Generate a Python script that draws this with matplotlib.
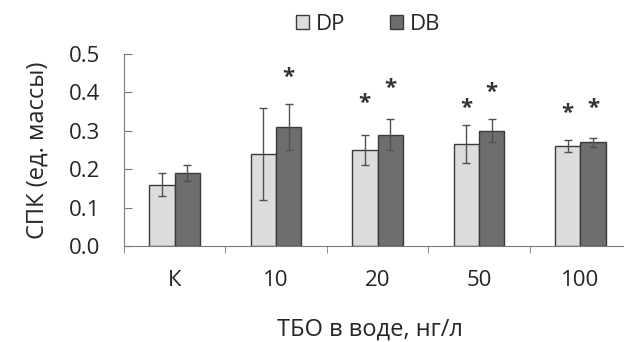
import matplotlib.pyplot as plt
import numpy as np

# --- DATA ---
categories = ["К", "10", "20", "50", "100"]
dp_vals = [0.16, 0.24, 0.25, 0.265, 0.26]
dp_err = [0.03, 0.12, 0.04, 0.05, 0.015]
db_vals = [0.19, 0.31, 0.29, 0.30, 0.27]
db_err = [0.02, 0.06, 0.04, 0.03, 0.012]
# asterisk heights (None = no mark)
dp_star = [None, None, 0.372, 0.359, 0.346]
db_star = [None, 0.44, 0.411, 0.401, 0.357]

plt.rcParams["font.family"] = ["Open Sans", "DejaVu Sans"]
text_col = "#262626"

fig = plt.figure(figsize=(6.24, 3.42), dpi=100)
ax = fig.add_axes([124 / 624, 96 / 342, 507 / 624, 192 / 342])

x = np.arange(len(categories))
w = 0.25
err_kw = dict(ecolor="#505050", elinewidth=1.0, capsize=3, capthick=1.0)
ax.bar(x - w / 2, dp_vals, w, yerr=dp_err, color="#dcdcdc",
       edgecolor="#3a3a3a", linewidth=1.0, label="DP", error_kw=err_kw)
ax.bar(x + w / 2, db_vals, w, yerr=db_err, color="#6e6e6e",
       edgecolor="#3a3a3a", linewidth=1.0, label="DB", error_kw=err_kw)

for i in range(len(categories)):
    if dp_star[i] is not None:
        ax.text(x[i] - w / 2, dp_star[i], "*", ha="center", va="center",
                fontsize=16, fontweight="bold", color="#333333")
    if db_star[i] is not None:
        ax.text(x[i] + w / 2, db_star[i], "*", ha="center", va="center",
                fontsize=16, fontweight="bold", color="#333333")

ax.set_xlim(-0.5, len(categories) - 0.5)
ax.set_ylim(0, 0.5)
ax.set_yticks([0.0, 0.1, 0.2, 0.3, 0.4, 0.5])
ax.set_yticklabels(["0.0", "0.1", "0.2", "0.3", "0.4", "0.5"])
ax.set_xticks(x)
ax.set_xticklabels(categories)
ax.set_xticks(np.arange(len(categories) + 1) - 0.5, minor=True)

for s in ["top", "right"]:
    ax.spines[s].set_visible(False)
ax.spines["left"].set_color("#7a7a7a")
ax.spines["bottom"].set_color("#7a7a7a")

ax.tick_params(axis="y", direction="in", length=6, color="#7a7a7a",
               labelsize=16, labelcolor=text_col, pad=17)
ax.tick_params(axis="x", which="major", length=0, labelsize=16,
               labelcolor=text_col, pad=17)
ax.tick_params(axis="x", which="minor", direction="out", length=5,
               color="#7a7a7a")

ax.set_ylabel("СПК (ед. массы)", fontsize=17, color=text_col, labelpad=14)
fig.text(370 / 624, 1 - 330 / 342, "ТБО в воде, нг/л", ha="center",
         va="center", fontsize=17, color=text_col)

ax.legend(loc="center", bbox_to_anchor=(368 / 624, 1 - 24 / 342),
          bbox_transform=fig.transFigure, ncol=2, frameon=False,
          fontsize=16, handlelength=0.6, handleheight=0.6,
          handletextpad=0.3, columnspacing=2.0, labelcolor=text_col)

fig.savefig("out.png", dpi=100)
